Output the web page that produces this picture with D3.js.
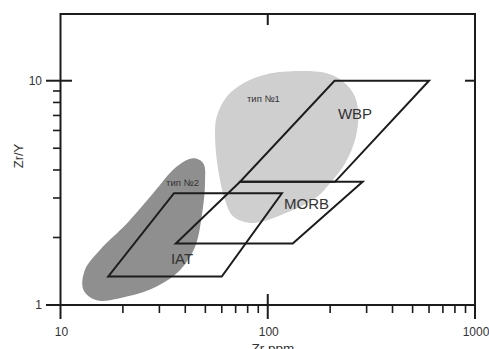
<!DOCTYPE html>
<html><head><meta charset="utf-8">
<script src="https://cdn.jsdelivr.net/npm/d3@7"></script>
<style>body{margin:0;background:#fff}svg{display:block;font-family:"Liberation Sans",Arial,sans-serif}</style>
</head><body>
<svg id="c" width="489" height="349"></svg>
<script>
// Data (Zr ppm, Zr/Y)
const xTickLabels = [10, 100, 1000];
const yTickLabels = [1, 10];
const fieldWBP  = [[210,10],[600,10],[211,3.54],[73.5,3.54]];
const fieldMORB = [[73.5,3.54],[287,3.54],[132,1.88],[36,1.88]];
const fieldIAT  = [[35.3,3.15],[117,3.15],[60,1.34],[17,1.34]];
const blobType1 = [[143,11.05],[192.5,10.8],[231.5,9.9],[263.6,8.48],[273.5,6.91],[263.6,5.44],[236,4.28],[200,3.5],[172.8,3.03],[132.3,2.65],[84.9,2.32],[68.2,2.48],[62.2,2.94],[57.7,4.0],[55.7,5.63],[56.7,6.91],[63.4,8.48],[76.2,9.74],[98.9,10.7]];
const blobType2 = [[43.7,4.51],[48.9,4.28],[49.8,3.49],[48.0,2.48],[44.6,1.82],[37.7,1.43],[29.1,1.21],[20.9,1.09],[14.95,1.05],[12.9,1.17],[13.1,1.43],[15.5,1.76],[20.9,2.31],[28.0,3.15],[36.4,4.14]];
const fieldLabels = [
  {text:"WBP", x:218, y:6.75, size:15},
  {text:"MORB", x:119.8, y:2.68, size:15},
  {text:"IAT", x:34.1, y:1.52, size:15},
  {text:"тип №1", x:79.4, y:8.04, size:9.5},
  {text:"тип №2", x:32.3, y:3.39, size:9.5}
];
const xTitle = "Zr ppm", yTitle = "Zr/Y";

const svg = d3.select("#c");
const L=60.5, R=475, T=13.2, B=305;
const x = d3.scaleLog().domain([10,1000]).range([L,R]);
const y = d3.scaleLog().domain([1,20]).range([B,T]);
const ink = "#1c1c1c";

// blobs
const line = d3.line().x(d=>x(d[0])).y(d=>y(d[1])).curve(d3.curveCatmullRomClosed.alpha(0.5));
svg.append("path").attr("d", line(blobType1)).attr("fill","#cfcfcf");
svg.append("path").attr("d", line(blobType2)).attr("fill","#8f8f8f");

// fields
const poly = d3.line().x(d=>x(d[0])).y(d=>y(d[1]));
[fieldWBP, fieldMORB, fieldIAT].forEach(f=>{
  svg.append("path").attr("d", poly(f)+"Z").attr("fill","none").attr("stroke",ink).attr("stroke-width",2).attr("stroke-linejoin","miter");
});

// labels
fieldLabels.forEach(l=>{
  svg.append("text").attr("x",x(l.x)).attr("y",y(l.y)).attr("font-size",l.size).attr("fill","#333").text(l.text);
});

// frame
svg.append("rect").attr("x",L).attr("y",14).attr("width",R-L).attr("height",B-14)
  .attr("fill","none").attr("stroke",ink).attr("stroke-width",2);

const g = svg.append("g").attr("stroke",ink).attr("stroke-width",2);
// x ticks
const xt = x.ticks();
xt.forEach(v=>{
  const major = xTickLabels.includes(v);
  const px = x(v);
  if (major) {
    g.append("line").attr("x1",px).attr("x2",px).attr("y1", v===100?294:B).attr("y2",319);
  } else {
    g.append("line").attr("x1",px).attr("x2",px).attr("y1",B).attr("y2",313).attr("stroke-width",1.6);
  }
});
// top tick at 100
g.append("line").attr("x1",x(100)).attr("x2",x(100)).attr("y1",14).attr("y2",25);
// y ticks
const yt = y.ticks().filter(v=>v<=10);
yt.forEach(v=>{
  const major = yTickLabels.includes(v);
  const py = y(v);
  if (major) {
    g.append("line").attr("x1",46).attr("x2", v===10?72:L).attr("y1",py).attr("y2",py);
  } else {
    g.append("line").attr("x1",53).attr("x2",L).attr("y1",py).attr("y2",py).attr("stroke-width",1.6);
  }
});
// right tick at 10
g.append("line").attr("x1",465).attr("x2",R).attr("y1",y(10)).attr("y2",y(10));

// tick labels
xTickLabels.forEach(v=>{
  svg.append("text").attr("x",x(v)+1).attr("y",336).attr("text-anchor","middle").attr("font-size",12).attr("fill","#333").text(v);
});
yTickLabels.forEach(v=>{
  svg.append("text").attr("x",42).attr("y",y(v)).attr("dy","0.35em").attr("text-anchor","end").attr("font-size",12).attr("fill","#333").text(v);
});
// titles
svg.append("text").attr("x",273).attr("y",353).attr("text-anchor","middle").attr("font-size",13.5).attr("fill","#333").text(xTitle);
svg.append("text").attr("transform","translate(23,156) rotate(-90)").attr("text-anchor","middle").attr("font-size",13).attr("fill","#333").text(yTitle);
</script>
</body></html>
